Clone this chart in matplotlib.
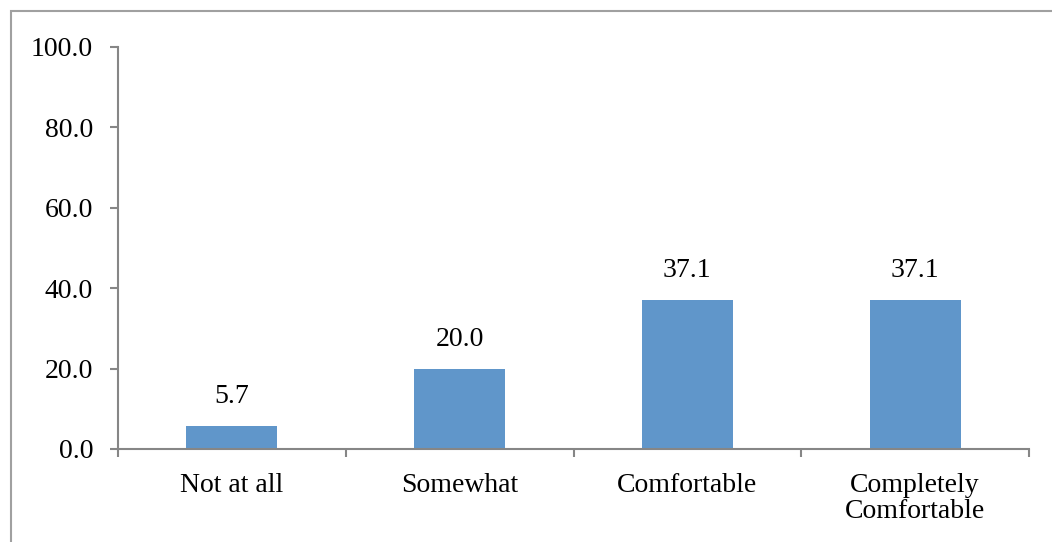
import matplotlib.pyplot as plt
from matplotlib.patches import Rectangle

categories = ['Not at all', 'Somewhat', 'Comfortable', 'Completely\nComfortable']
values = [5.7, 20.0, 37.1, 37.1]
yticks = [0, 20, 40, 60, 80, 100]

plt.rcParams['font.family'] = ['Liberation Serif', 'DejaVu Serif']
axis_gray = '#868686'
fs = 20

fig = plt.figure(figsize=(10.52, 5.42), dpi=100)
ax = fig.add_axes([118 / 1052, 1 - 449 / 542, (1029 - 118) / 1052, (449 - 47) / 542])

# outer chart border (runs off the right and bottom edges)
fig.patches.append(Rectangle((11 / 1052, -0.05), 1.2, 1 - 11 / 542 + 0.05,
                             transform=fig.transFigure, fill=False,
                             edgecolor='#a0a0a0', linewidth=1.5))

x = range(len(categories))
ax.bar(x, values, width=0.4, color='#6096CA', zorder=2)
for xi, v in zip(x, values):
    ax.annotate('{:.1f}'.format(v), (xi, v), xytext=(0, 12), textcoords='offset points',
                ha='center', va='bottom', fontsize=fs)

ax.set_xlim(-0.5, len(categories) - 0.5)
ax.set_ylim(0, 100)
ax.set_yticks(yticks)
ax.set_yticklabels(['{:.1f}'.format(t) for t in yticks], fontsize=fs)
ax.set_xticks([i - 0.5 for i in range(len(categories) + 1)])
ax.set_xticklabels([])
ax.set_xticks(list(x), minor=True)
ax.set_xticklabels(categories, minor=True, fontsize=fs, linespacing=1.05)
ax.tick_params(axis='x', which='minor', length=0, pad=17)
ax.tick_params(axis='x', which='major', length=6, color=axis_gray, width=1.5)
ax.tick_params(axis='y', length=6, color=axis_gray, width=1.5, pad=12)

for side in ['top', 'right']:
    ax.spines[side].set_visible(False)
for side in ['left', 'bottom']:
    ax.spines[side].set_color(axis_gray)
    ax.spines[side].set_linewidth(1.5)

fig.savefig('out.png', dpi=100)
